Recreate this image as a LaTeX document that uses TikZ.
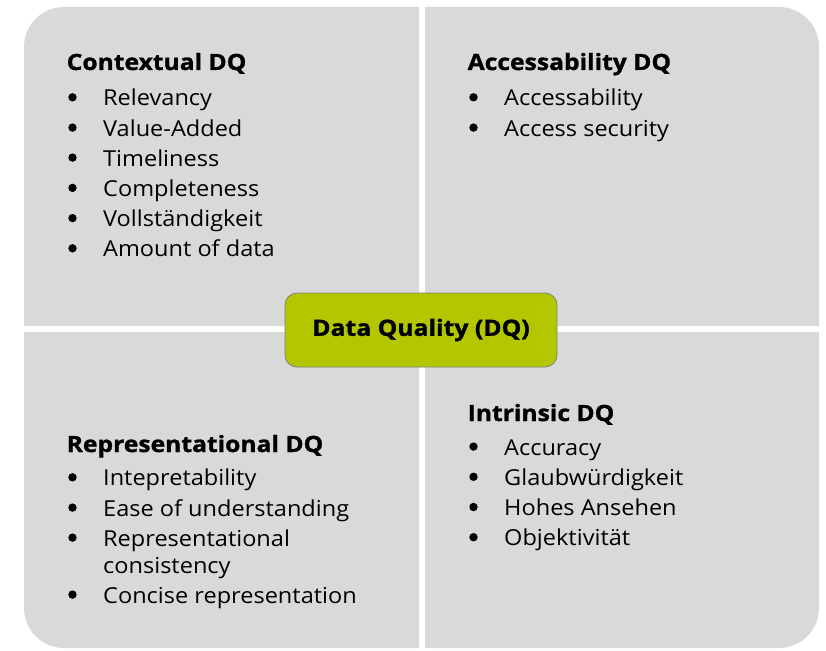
\documentclass[tikz,border=0pt]{standalone}
\usepackage{fontspec}
\setmainfont{Open Sans}[FakeStretch=1.07]
\newfontfamily\headfont{Open Sans}[FakeStretch=1.1, BoldFeatures={FakeBold=1.2}]
\usetikzlibrary{positioning}

\definecolor{quadgray}{HTML}{D9D9D9}
\definecolor{dqgreen}{HTML}{B3C600}

\begin{document}
\begin{tikzpicture}[
  x=1pt, y=1pt,
  quad/.style={fill=quadgray},
  head/.style={anchor=base west, inner sep=0pt, font=\fontsize{22.4}{26}\headfont\bfseries},
  item/.style={anchor=base west, inner sep=0pt, font=\fontsize{22}{26}\selectfont},
  dot/.style={fill=black},
  core/.style={draw=gray, line width=0.8pt, fill=dqgreen, rounded corners=12pt,
               minimum width=272pt, minimum height=74pt, inner sep=0pt,
               font=\fontsize{22.5}{26}\headfont\bfseries}
]
\useasboundingbox (0,0) rectangle (826,-650);

% four quadrants, outer corner rounded
\fill[quad] (419,-7) -- (64,-7) arc[start angle=90, end angle=180, radius=40] -- (24,-326) -- (419,-326) -- cycle;
\fill[quad] (425,-7) -- (779,-7) arc[start angle=90, end angle=0, radius=40] -- (819,-326) -- (425,-326) -- cycle;
\fill[quad] (419,-648) -- (64,-648) arc[start angle=270, end angle=180, radius=40] -- (24,-332) -- (419,-332) -- cycle;
\fill[quad] (425,-648) -- (779,-648) arc[start angle=270, end angle=360, radius=40] -- (819,-332) -- (425,-332) -- cycle;

% top left
\node[head] (ctx) at (66.5,-70) {Contextual DQ};
\foreach \t/\y [count=\i] in {Relevancy/105.7, Value-Added/136, Timeliness/166,
    Completeness/196.3, Vollständigkeit/226.5, Amount of data/256.7} {
  \node[item] (ctx-\i) at (103,-\y) {\t};
  \fill[dot] ([xshift=-30.5pt, yshift=8.4pt]ctx-\i.base west) circle (4.2pt);
}

% top right
\node[head] (acc) at (467.5,-70) {Accessability DQ};
\foreach \t/\y [count=\i] in {Accessability/105.7, Access security/136} {
  \node[item] (acc-\i) at (504,-\y) {\t};
  \fill[dot] ([xshift=-30.5pt, yshift=8.4pt]acc-\i.base west) circle (4.2pt);
}

% bottom left
\node[head] (rep) at (66.5,-452) {Representational DQ};
\foreach \t/\y [count=\i] in {Intepretability/485.7, Ease of understanding/516,
    Representational/546, Concise representation/603} {
  \node[item] (rep-\i) at (103,-\y) {\t};
  \fill[dot] ([xshift=-30.5pt, yshift=8.4pt]rep-\i.base west) circle (4.2pt);
}
\node[item] (rep-3b) at (103,-573) {consistency};

% bottom right
\node[head] (intr) at (467.5,-421) {Intrinsic DQ};
\foreach \t/\y [count=\i] in {Accuracy/455, Glaubwürdigkeit/485.2, Hohes Ansehen/515.4,
    Objektivität/545.6} {
  \node[item] (intr-\i) at (504,-\y) {\t};
  \fill[dot] ([xshift=-30.5pt, yshift=8.4pt]intr-\i.base west) circle (4.2pt);
}

% centre
\node[core] (dq) at (421,-330) {Data Quality (DQ)};
\end{tikzpicture}
\end{document}
